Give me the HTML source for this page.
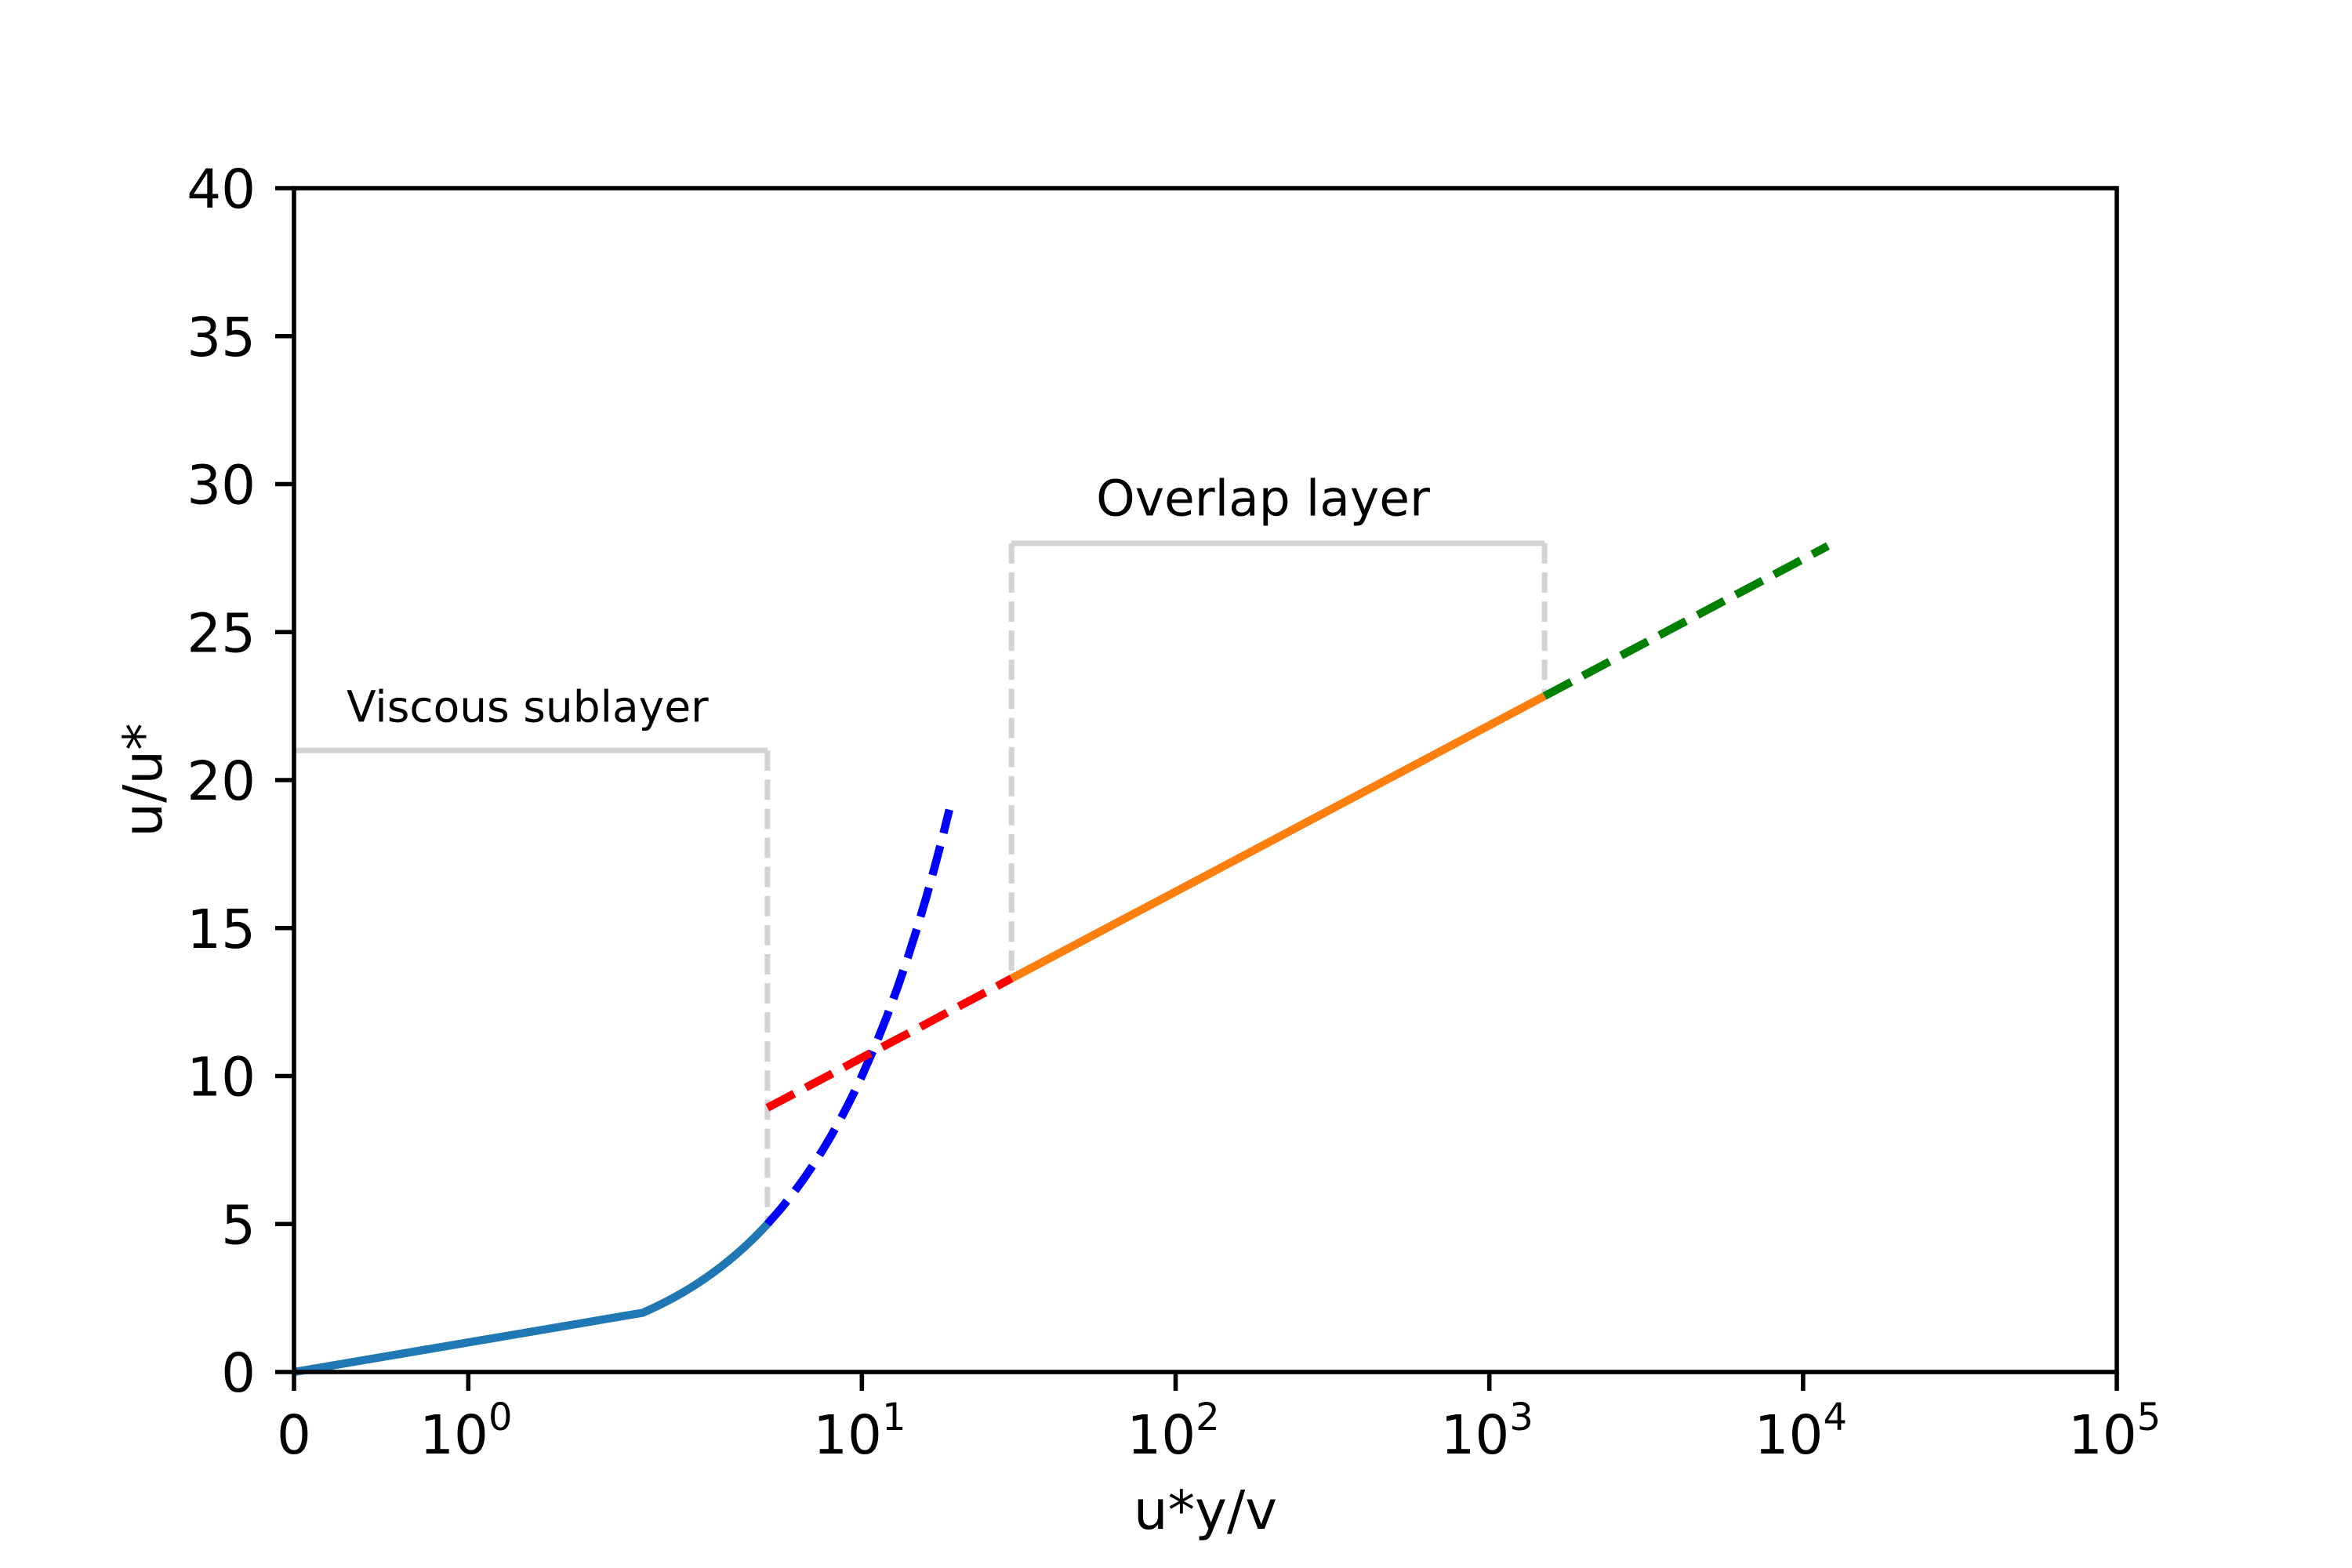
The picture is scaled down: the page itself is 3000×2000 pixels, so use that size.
<!DOCTYPE html>
<html><head><meta charset="utf-8"><style>
html,body{margin:0;padding:0;background:#fff;}
svg{display:block;font-family:"DejaVu Sans","Liberation Sans",sans-serif;}
</style></head><body>
<svg id="chart" width="3000" height="2000" viewBox="0 0 3000 2000" xmlns="http://www.w3.org/2000/svg">
<rect width="3000" height="2000" fill="#fff"/>
<g id="plot"></g>
</svg>
<script>
const yTicks = [0,5,10,15,20,25,30,35,40];
const xTickVals = [0,1,10,100,1000,10000,100000];
const xTickExp = [null,"0","1","2","3","4","5"];
const sublayerX = [0,1,2,2.1,2.2,2.3,2.4,2.5,2.6,2.7,2.8,2.9,3,3.2,3.4,3.6,3.8,4,4.2,4.4,4.6,4.8,5];
const sublayerY = [0,1,2,2.1,2.2,2.3,2.4,2.5,2.6,2.7,2.8,2.9,3,3.2,3.4,3.6,3.8,4,4.2,4.4,4.6,4.8,5];
const linearExtX = [5,5.5,6,6.5,7,7.5,8,8.5,9,9.5,10,11,12,13,14,15,16,17,18,19];
const linearExtY = [5,5.5,6,6.5,7,7.5,8,8.5,9,9.5,10,11,12,13,14,15,16,17,18,19];
const bufferX = [5,6,8,10,12,15,20,25,30];
const bufferY = [8.93,9.37,10.07,10.62,11.06,11.60,12.31,12.85,13.30];
const overlapX = [30,100,300,1000,1500];
const overlapY = [13.30,16.23,18.91,21.85,22.84];
const outerX = [1500,3000,6000,12000];
const outerY = [22.84,24.53,26.22,27.91];
const viscousBracket = {x0:0,x1:5,top:21,bottom:4.9};
const overlapBracket = {x0:30,x1:1500,top:28,bottomLeft:13.3,bottomRight:22.84};

const L=375,R=2700,T=240,B=1750;
const NS="http://www.w3.org/2000/svg";
const g=document.getElementById('plot');
const LS=1/(1-0.1);
function sym(x){return x<=2? x/2*LS : LS+Math.log10(x/2);}
const XMAX=sym(100000);
function sx(x){return L+(R-L)*sym(x)/XMAX;}
function sy(y){return B-(B-T)*y/40;}
function el(tag,attrs){const e=document.createElementNS(NS,tag);for(const k in attrs)e.setAttribute(k,attrs[k]);g.appendChild(e);return e;}
function line(xs,ys,color,w,dash,name){
  const d=xs.map((x,i)=>(i?'L':'M')+sx(x).toFixed(2)+' '+sy(ys[i]).toFixed(2)).join(' ');
  const p=el('path',{d:d,fill:'none',stroke:color,'stroke-width':w,'stroke-linejoin':'round'});
  if(dash)p.setAttribute('stroke-dasharray',dash);
  
  
  return p;
}
const gd='25.9 11.2';
let b1=el('path',{d:`M${sx(viscousBracket.x0)} ${sy(viscousBracket.top)} L${sx(viscousBracket.x1)} ${sy(viscousBracket.top)}`,stroke:'#d3d3d3','stroke-width':7,fill:'none'});


let b2=el('path',{d:`M${sx(viscousBracket.x1)} ${sy(viscousBracket.top)} L${sx(viscousBracket.x1)} ${sy(viscousBracket.bottom)}`,stroke:'#d3d3d3','stroke-width':7,fill:'none','stroke-dasharray':gd});


let b3=el('path',{d:`M${sx(overlapBracket.x0)} ${sy(overlapBracket.top)} L${sx(overlapBracket.x1)} ${sy(overlapBracket.top)}`,stroke:'#d3d3d3','stroke-width':7,fill:'none'});


let b4=el('path',{d:`M${sx(overlapBracket.x0)} ${sy(overlapBracket.top)} L${sx(overlapBracket.x0)} ${sy(overlapBracket.bottomLeft)}`,stroke:'#d3d3d3','stroke-width':7,fill:'none','stroke-dasharray':gd});


let b5=el('path',{d:`M${sx(overlapBracket.x1)} ${sy(overlapBracket.top)} L${sx(overlapBracket.x1)} ${sy(overlapBracket.bottomRight)}`,stroke:'#d3d3d3','stroke-width':7,fill:'none','stroke-dasharray':gd});


const dd='38.5 16.7';
line(sublayerX,sublayerY,'#1f77b4',10.4,null,'viscous-sublayer-line');
line(linearExtX,linearExtY,'#0000ff',10.4,dd,'linear-extension-line');
line(bufferX,bufferY,'#ff0000',10.4,dd,'buffer-log-line');
line(overlapX,overlapY,'#ff7f0e',10.4,null,'overlap-log-line');
line(outerX,outerY,'#008000',10.4,dd,'outer-log-line');
let sp=el('rect',{x:L,y:T,width:R-L,height:B-T,fill:'none',stroke:'#000','stroke-width':5.6});


yTicks.forEach(v=>{
  const y=sy(v);
  let t=el('line',{x1:L-24,x2:L,y1:y,y2:y,stroke:'#000','stroke-width':5.6});
  
  
  let tx=el('text',{x:L-49,y:y+25,'text-anchor':'end','font-size':69,fill:'#000'});
  tx.textContent=v;
  
  
});
xTickVals.forEach((v,i)=>{
  const x=sx(v);
  let t=el('line',{x1:x,x2:x,y1:B,y2:B+24,stroke:'#000','stroke-width':5.6});
  
  
  let tx=el('text',{x:x,y:B+104,'text-anchor':'middle','font-size':69,fill:'#000'});
  if(xTickExp[i]===null){tx.textContent='0';}
  else{
    tx.setAttribute('dx','-3');
    const a=document.createElementNS(NS,'tspan');a.textContent='10';tx.appendChild(a);
    const s=document.createElementNS(NS,'tspan');s.setAttribute('font-size','48');s.setAttribute('dy','-30');s.textContent=xTickExp[i];tx.appendChild(s);
  }
  
  
});
let a1=el('text',{x:442,y:sy(22.5)+20,'font-size':55,fill:'#000'});
a1.textContent='Viscous sublayer';


let a2=el('text',{x:1611,y:sy(29.6)+25,'font-size':63,'text-anchor':'middle',fill:'#000'});
a2.textContent='Overlap layer';


let xl=el('text',{x:(L+R)/2,y:1950,'font-size':69,'text-anchor':'middle',fill:'#000'});
xl.textContent='u*y/v';


let yl=el('text',{x:0,y:0,'font-size':69,'text-anchor':'middle',fill:'#000',transform:`translate(206 ${(T+B)/2}) rotate(-90)`});
yl.textContent='u/u*';


</script>
</body></html>
